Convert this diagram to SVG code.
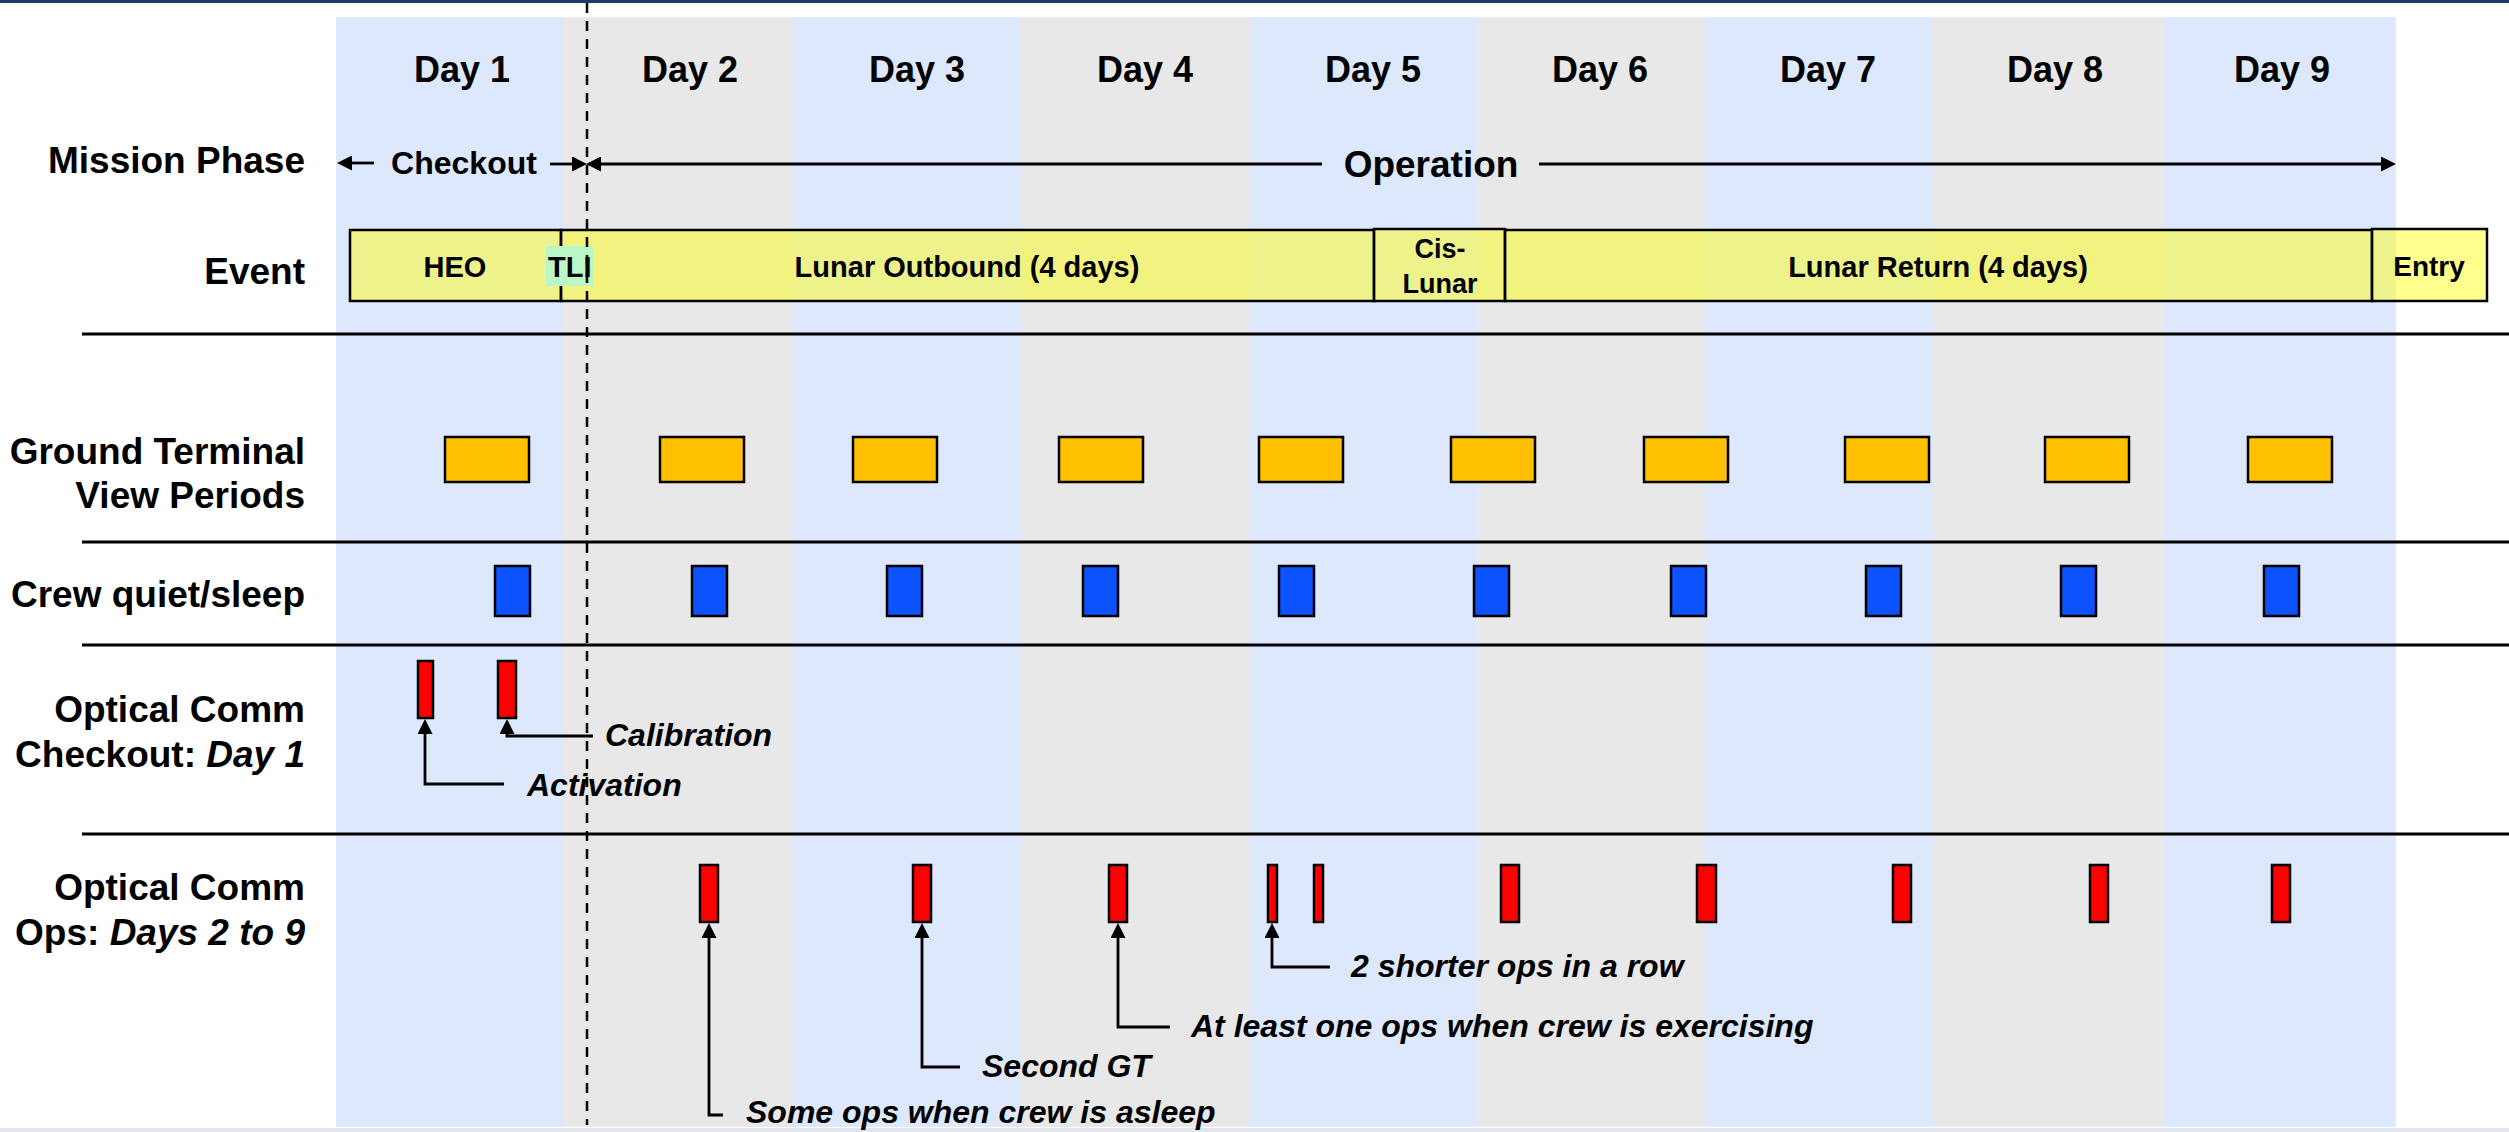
<svg xmlns="http://www.w3.org/2000/svg" width="2509" height="1132" viewBox="0 0 2509 1132">
<style>
text{font-family:"Liberation Sans",Arial,sans-serif;font-weight:bold;fill:#000}
.day{font-size:36px;text-anchor:middle}
.lbl{font-size:37px;text-anchor:end}
.ev{font-size:29px;text-anchor:middle}
.note{font-size:32px;font-style:italic}
.blue{fill:#dee8fc}
.gray{fill:#e8e8e8}
.sep{stroke:#000;stroke-width:3}
.bar{fill:#ffff00;fill-opacity:0.45;stroke:#000;stroke-width:2.5}
.gt{fill:#ffc000;stroke:#000;stroke-width:2.5}
.sl{fill:#0d52ff;stroke:#000;stroke-width:2.5}
.op{fill:#ff0000;stroke:#000;stroke-width:2.5}
.con{fill:none;stroke:#000;stroke-width:2.8;marker-end:url(#ah)}
</style>
<defs>
<marker id="ah" viewBox="0 0 15 15" refX="0" refY="7.5" markerWidth="15" markerHeight="15" markerUnits="userSpaceOnUse" orient="auto">
<path d="M0,0 L15,7.5 L0,15 z" fill="#000"/>
</marker>
</defs>
<rect x="0" y="0" width="2509" height="1132" fill="#fff"/>
<rect x="0" y="0" width="2509" height="3" fill="#1f3d6b"/>
<g id="columns">
<rect class="blue" x="336" y="17" width="228" height="1110"/>
<rect class="gray" x="564" y="17" width="229" height="1110"/>
<rect class="blue" x="793" y="17" width="229" height="1110"/>
<rect class="gray" x="1022" y="17" width="227" height="1110"/>
<rect class="blue" x="1249" y="17" width="228" height="1110"/>
<rect class="gray" x="1477" y="17" width="229" height="1110"/>
<rect class="blue" x="1706" y="17" width="228" height="1110"/>
<rect class="gray" x="1934" y="17" width="229" height="1110"/>
<rect class="blue" x="2163" y="17" width="233" height="1110"/>
</g>
<rect x="0" y="1128" width="2509" height="4" fill="#e1e6ec"/>
<g id="day-labels">
<text class="day" x="462" y="82">Day 1</text>
<text class="day" x="690" y="82">Day 2</text>
<text class="day" x="917" y="82">Day 3</text>
<text class="day" x="1145" y="82">Day 4</text>
<text class="day" x="1373" y="82">Day 5</text>
<text class="day" x="1600" y="82">Day 6</text>
<text class="day" x="1828" y="82">Day 7</text>
<text class="day" x="2055" y="82">Day 8</text>
<text class="day" x="2282" y="82">Day 9</text>
</g>
<g id="row-labels">
<text class="lbl" x="305" y="173">Mission Phase</text>
<text class="lbl" x="305" y="284">Event</text>
<text class="lbl" x="305" y="464">Ground Terminal</text>
<text class="lbl" x="305" y="508">View Periods</text>
<text class="lbl" x="305" y="607">Crew quiet/sleep</text>
<text class="lbl" x="305" y="722">Optical Comm</text>
<text class="lbl" x="305" y="767">Checkout: <tspan font-style="italic">Day 1</tspan></text>
<text class="lbl" x="305" y="900">Optical Comm</text>
<text class="lbl" x="305" y="945">Ops: <tspan font-style="italic">Days 2 to 9</tspan></text>
</g>
<g id="separators">
<line class="sep" x1="82" y1="334" x2="2509" y2="334"/>
<line class="sep" x1="82" y1="542" x2="2509" y2="542"/>
<line class="sep" x1="82" y1="645" x2="2509" y2="645"/>
<line class="sep" x1="82" y1="834" x2="2509" y2="834"/>
</g>
<g id="phase-checkout">
<text x="464" y="174" font-size="32" text-anchor="middle">Checkout</text>
</g>
<g id="phase-operation">
<text x="1431" y="177" font-size="37" text-anchor="middle">Operation</text>
</g>
<g id="event-heo">
<rect class="bar" x="350" y="230" width="211" height="71"/>
<text class="ev" x="455" y="277">HEO</text>
</g>
<g id="event-outbound">
<rect class="bar" x="561" y="230" width="813" height="71"/>
<text class="ev" x="967" y="277">Lunar Outbound (4 days)</text>
</g>
<g id="event-tli">
<rect x="546" y="246" width="47" height="40" fill="#bbf7c6"/>
<text x="548" y="277" font-size="29">TLI</text>
</g>
<g id="event-cislunar">
<rect class="bar" x="1374" y="229" width="131" height="72"/>
<text x="1440" y="258" font-size="27" text-anchor="middle">Cis-</text>
<text x="1440" y="293" font-size="27" text-anchor="middle">Lunar</text>
</g>
<g id="event-return">
<rect class="bar" x="1505" y="230" width="867" height="71"/>
<text class="ev" x="1938" y="277">Lunar Return (4 days)</text>
</g>
<g id="event-entry">
<rect class="bar" x="2372" y="229" width="115" height="72"/>
<text x="2429" y="276" font-size="28" text-anchor="middle">Entry</text>
</g>
<g id="ground-terminal">
<rect class="gt" x="445" y="437" width="84" height="45"/>
<rect class="gt" x="660" y="437" width="84" height="45"/>
<rect class="gt" x="853" y="437" width="84" height="45"/>
<rect class="gt" x="1059" y="437" width="84" height="45"/>
<rect class="gt" x="1259" y="437" width="84" height="45"/>
<rect class="gt" x="1451" y="437" width="84" height="45"/>
<rect class="gt" x="1644" y="437" width="84" height="45"/>
<rect class="gt" x="1845" y="437" width="84" height="45"/>
<rect class="gt" x="2045" y="437" width="84" height="45"/>
<rect class="gt" x="2248" y="437" width="84" height="45"/>
</g>
<g id="crew-sleep">
<rect class="sl" x="495" y="566" width="35" height="50"/>
<rect class="sl" x="692" y="566" width="35" height="50"/>
<rect class="sl" x="887" y="566" width="35" height="50"/>
<rect class="sl" x="1083" y="566" width="35" height="50"/>
<rect class="sl" x="1279" y="566" width="35" height="50"/>
<rect class="sl" x="1474" y="566" width="35" height="50"/>
<rect class="sl" x="1671" y="566" width="35" height="50"/>
<rect class="sl" x="1866" y="566" width="35" height="50"/>
<rect class="sl" x="2061" y="566" width="35" height="50"/>
<rect class="sl" x="2264" y="566" width="35" height="50"/>
</g>
<g id="optical-checkout">
<rect class="op" x="418" y="661" width="15" height="57"/>
<rect class="op" x="498" y="661" width="18" height="57"/>
</g>
<g id="optical-ops">
<rect class="op" x="700" y="865" width="18" height="57"/>
<rect class="op" x="913" y="865" width="18" height="57"/>
<rect class="op" x="1109" y="865" width="18" height="57"/>
<rect class="op" x="1268" y="865" width="9" height="57"/>
<rect class="op" x="1314" y="865" width="9" height="57"/>
<rect class="op" x="1501" y="865" width="18" height="57"/>
<rect class="op" x="1697" y="865" width="19" height="57"/>
<rect class="op" x="1893" y="865" width="18" height="57"/>
<rect class="op" x="2090" y="865" width="18" height="57"/>
<rect class="op" x="2272" y="865" width="18" height="57"/>
</g>
<g id="annotations">
<text class="note" x="605" y="746">Calibration</text>
<text class="note" x="527" y="796">Activation</text>
<text class="note" x="1351" y="977">2 shorter ops in a row</text>
<text class="note" x="1191" y="1037">At least one ops when crew is exercising</text>
<text class="note" x="982" y="1077">Second GT</text>
<text class="note" x="746" y="1123">Some ops when crew is asleep</text>
</g>
<g id="connectors">
<path class="con" d="M374,163 H352"/>
<path class="con" d="M550,164 H572"/>
<path class="con" d="M1322,164 H601"/>
<path class="con" d="M1539,164 H2381"/>
<path class="con" d="M504,784 H425 V734"/>
<path class="con" d="M593,736 H507 V734"/>
<path class="con" d="M723,1115 H709 V938"/>
<path class="con" d="M960,1067 H922 V938"/>
<path class="con" d="M1170,1027 H1118 V938"/>
<path class="con" d="M1330,967 H1272 V938"/>
</g>
<line x1="587" y1="3" x2="587" y2="1125" stroke="#000" stroke-width="2.5" stroke-dasharray="10 8"/>
</svg>
